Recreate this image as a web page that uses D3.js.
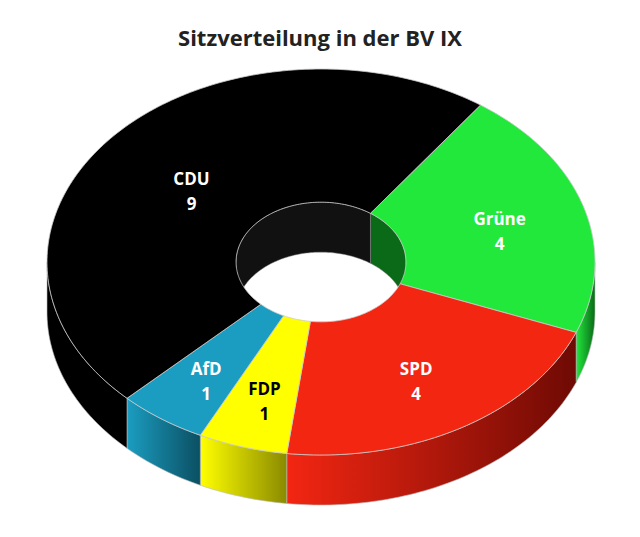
<!DOCTYPE html>
<html><head><meta charset="utf-8">
<script src="https://cdn.jsdelivr.net/npm/d3@7"></script>
<style>body{margin:0;background:#fff}</style></head>
<body><svg id="c" width="640" height="537"></svg>
<script>
const parties = ["Grüne","SPD","FDP","AfD","CDU"];
const seats = [4,4,1,1,9];
const colors = ["#22e83c","#f32612","#ffff00","#1b9dc1","#000000"];
const sideDark = ["#0a6a18","#6e0a04","#8a8a00","#0b4f62","#000000"];
const labelColors = ["#fff","#fff","#000","#fff","#fff"];
const title = "Sitzverteilung in der BV IX";

const svg = d3.select("#c");
const cx=321, cy=262, rx=274, ry=193, depth=50, inner=0.31;
const deg=Math.PI/180;
const pie = d3.pie().sort(null).startAngle(35.6*deg).endAngle(395.6*deg);
const arcs = pie(seats);
const P=(a,r,dz)=>[cx+r*rx*Math.sin(a), cy-r*ry*Math.cos(a)+dz];
function arcPts(a0,a1,r,dz){const n=Math.max(2,Math.ceil(Math.abs(a1-a0)/0.02));return d3.range(n+1).map(i=>P(a0+(a1-a0)*i/n,r,dz));}
const line=pts=>"M"+pts.map(p=>p.join(",")).join("L")+"Z";
const defs=svg.append("defs");
arcs.forEach((d,i)=>{
  const g=defs.append("linearGradient").attr("id","g"+i).attr("x1","0").attr("x2","1");
  g.append("stop").attr("offset","0").attr("stop-color",colors[i]);
  g.append("stop").attr("offset","1").attr("stop-color",sideDark[i]);
});
svg.append("text").attr("x",320).attr("y",46).attr("text-anchor","middle")
 .attr("font-family","Open Sans").attr("font-weight","bold").attr("font-size",22).attr("fill","#222").text(title);
// inner walls (back half of hole)
arcs.forEach((d,i)=>{
  const a0=Math.max(d.startAngle, 270*deg), a1=Math.min(d.endAngle, 450*deg);
  const segs=[[Math.max(d.startAngle,-90*deg),Math.min(d.endAngle,90*deg)],[a0,a1]];
  segs.forEach(([s,e])=>{ if(e<=s) return;
    const top=arcPts(s,e,inner,0), bot=arcPts(e,s,inner,depth);
    svg.append("path").attr("d",line(top.concat(bot))).attr("fill",i==4?"#111":sideDark[i]).attr("stroke","#888").attr("stroke-width",0.5);
  });
});
// outer walls (front half)
arcs.forEach((d,i)=>{
  const s=Math.max(d.startAngle,90*deg), e=Math.min(d.endAngle,270*deg);
  if(e<=s) return;
  const top=arcPts(s,e,1,0), bot=arcPts(e,s,1,depth);
  svg.append("path").attr("d",line(top.concat(bot))).attr("fill",i==4?"#000":`url(#g${i})`).attr("stroke","#bbb").attr("stroke-width",0.6);
});
// top faces
arcs.forEach((d,i)=>{
  const pts=arcPts(d.startAngle,d.endAngle,1,0).concat(arcPts(d.endAngle,d.startAngle,inner,0));
  svg.append("path").attr("d",line(pts)).attr("fill",colors[i]).attr("stroke","#ccc").attr("stroke-width",0.8);
});
// labels
const lr=[0.68,0.68,0.72,0.72,0.62];
arcs.forEach((d,i)=>{
  const m=(d.startAngle+d.endAngle)/2; const [x,y]=P(m,lr[i],0);
  const t=svg.append("text").attr("text-anchor","middle").attr("font-family","Open Sans").attr("font-weight","bold").attr("fill",labelColors[i]);
  t.append("tspan").attr("x",x).attr("y",y).attr("font-size",17).text(parties[i]);
  t.append("tspan").attr("x",x).attr("y",y+25).attr("font-size",17).text(seats[i]);
});
</script></body></html>
